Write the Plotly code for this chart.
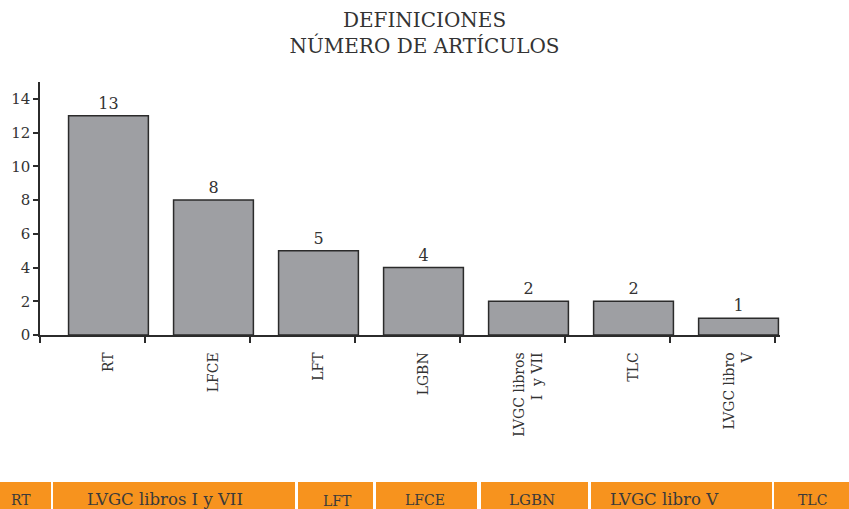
import plotly.graph_objects as go

# ---- data ----
categories = ["RT", "LFCE", "LFT", "LGBN", "LVGC libros<br>I  y VII", "TLC", "LVGC libro<br>V"]
values = [13, 8, 5, 4, 2, 2, 1]
y_ticks = [0, 2, 4, 6, 8, 10, 12, 14]
strip_labels = ["RT", "LVGC libros I y VII", "LFT", "LFCE", "LGBN", "LVGC libro V", "TLC"]

FONT = "DejaVu Serif"
TXT = "#333333"
W, H = 849, 509
L, R, T, B = 40, 69, 82, 174
pw, ph = W - L - R, H - T - B

def px(x):
    return (x - L) / pw

def py(y):
    return (H - B - y) / ph

xpos = list(range(len(categories)))

fig = go.Figure(go.Bar(
    x=xpos, y=values, width=0.76,
    marker=dict(color="#9e9fa3", line=dict(color="#2b2b2b", width=1.5)),
    text=[str(v) for v in values], textposition="outside",
    textfont=dict(family=FONT, size=16, color=TXT),
    cliponaxis=False,
))

# bottom orange strip (cells)
cells = [(0, 51), (53, 295), (298, 373), (376, 477), (481, 588), (591, 772), (774, 849)]
text_x = [21, 165, 337, 425, 532, 664, 812]
text_y = [500, 499, 501, 500, 500, 499, 500]
sizes = [14, 16.5, 14, 14, 15, 16.5, 14]
shapes = []
annotations = []
for (x0, x1), lab, tx, ty, fs in zip(cells, strip_labels, text_x, text_y, sizes):
    shapes.append(dict(type="rect", xref="paper", yref="paper",
                       x0=px(x0), x1=px(x1), y0=py(482), y1=py(515),
                       fillcolor="#f7931e", line=dict(width=0), layer="above"))
    annotations.append(dict(text=lab, xref="paper", yref="paper", x=px(tx), y=py(ty),
                            xanchor="center", yanchor="middle", showarrow=False,
                            font=dict(family=FONT, size=fs, color="#3a3a3a")))

fig.update_layout(
    width=W, height=H,
    margin=dict(l=L, r=R, t=T, b=B, pad=0),
    paper_bgcolor="white", plot_bgcolor="white",
    showlegend=False,
    title=dict(text="DEFINICIONES<br>NÚMERO DE ARTÍCULOS", x=0.5, xref="container",
               y=1 - 27 / H, yanchor="top", yref="container",
               font=dict(family=FONT, size=20, color=TXT)),
    xaxis=dict(range=[-0.652, 6.395], tickvals=xpos, ticktext=categories,
               tickangle=-90, ticks="", showgrid=False, zeroline=False,
               showline=True, linecolor="#2b2b2b", linewidth=1.5,
               tickfont=dict(family=FONT, size=14, color=TXT),
               ticklabelstandoff=10,
               minor=dict(tick0=0.35, dtick=1, ticks="outside", ticklen=6,
                          tickcolor="#2b2b2b", tickwidth=1.5, showgrid=False)),
    yaxis=dict(range=[0, 15], tickvals=y_ticks, ticks="outside", ticklen=5,
               tickcolor="#2b2b2b", tickwidth=1.5, showgrid=False, zeroline=False,
               showline=True, linecolor="#2b2b2b", linewidth=1.5,
               tickfont=dict(family=FONT, size=15, color=TXT)),
    shapes=shapes, annotations=annotations,
)

fig.write_html("out.html", config={"displayModeBar": False},
               post_script="document.body.style.margin='0';document.body.style.overflow='hidden';")
